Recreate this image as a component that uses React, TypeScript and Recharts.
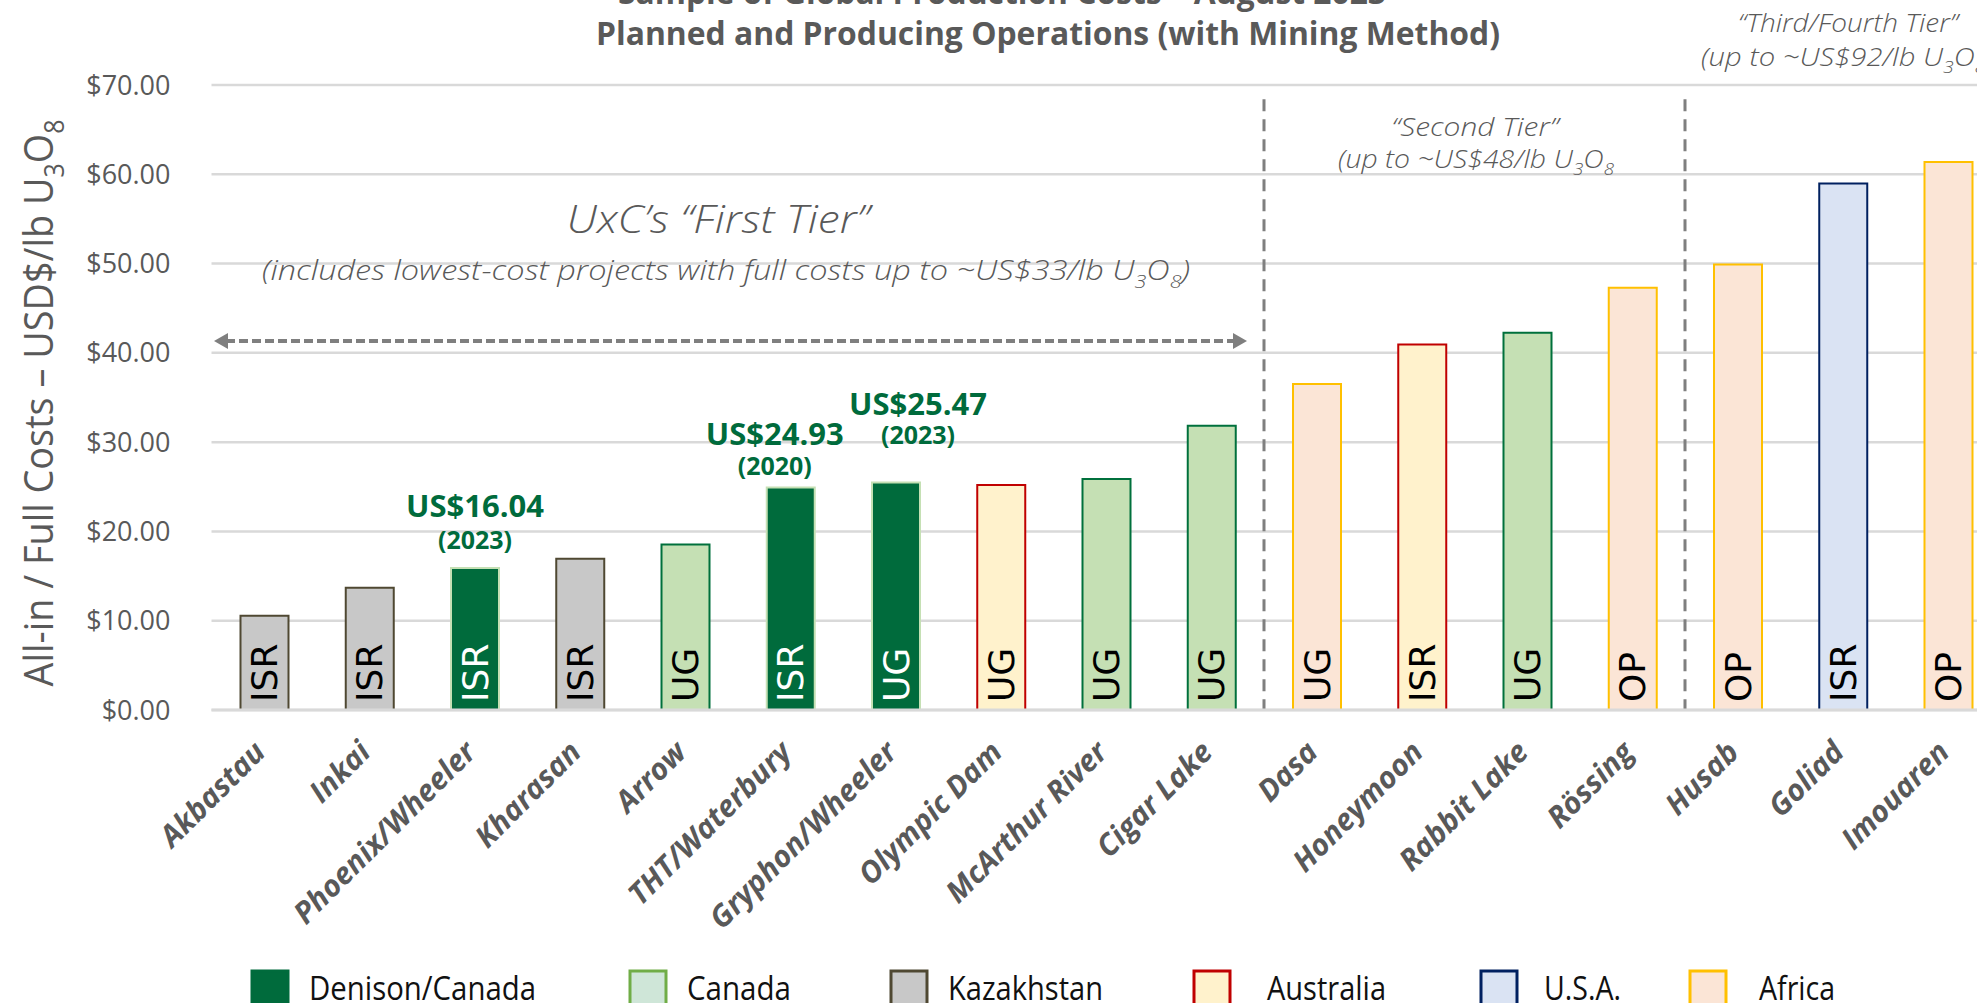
import React from 'react';
import {
  BarChart,
  Bar,
  XAxis,
  YAxis,
  CartesianGrid,
  Cell,
  LabelList,
  ReferenceLine,
} from 'recharts';

const projects = [
  'Akbastau',
  'Inkai',
  'Phoenix/Wheeler',
  'Kharasan',
  'Arrow',
  'THT/Waterbury',
  'Gryphon/Wheeler',
  'Olympic Dam',
  'McArthur River',
  'Cigar Lake',
  'Dasa',
  'Honeymoon',
  'Rabbit Lake',
  'Rössing',
  'Husab',
  'Goliad',
  'Imouaren',
];
const costs = [10.56, 13.7, 15.9, 16.94, 18.55, 24.93, 25.47, 25.2, 25.87, 31.84, 36.5, 40.95, 42.25, 47.3, 49.9, 58.98, 61.37];
const regions = [
  'Kazakhstan',
  'Kazakhstan',
  'Denison/Canada',
  'Kazakhstan',
  'Canada',
  'Denison/Canada',
  'Denison/Canada',
  'Australia',
  'Canada',
  'Canada',
  'Africa',
  'Australia',
  'Canada',
  'Africa',
  'Africa',
  'U.S.A.',
  'Africa',
];
const methods = ['ISR', 'ISR', 'ISR', 'ISR', 'UG', 'ISR', 'UG', 'UG', 'UG', 'UG', 'UG', 'ISR', 'UG', 'OP', 'OP', 'ISR', 'OP'];
const yTicks = [0, 10, 20, 30, 40, 50, 60, 70];
const legendItems = ['Denison/Canada', 'Canada', 'Kazakhstan', 'Australia', 'U.S.A.', 'Africa'];
const calloutProjects = ['Phoenix/Wheeler', 'THT/Waterbury', 'Gryphon/Wheeler'];
const calloutCosts = ['US$16.04', 'US$24.93', 'US$25.47'];
const calloutYears = ['(2023)', '(2020)', '(2023)'];
const tierStarts = ['Dasa', 'Husab'];

const titleLines = [
  'Sample of Global Production Costs \u2013 August 2023',
  'Planned and Producing Operations (with Mining Method)',
];

// styles
const FONT = "'Open Sans', sans-serif";
const GREY = '#595959';
const regionStyle: Record<string, { fill: string; stroke: string; text: string; legendFill: string; legendStroke: string }> = {
  'Denison/Canada': { fill: '#006B3C', stroke: '#C5E0B4', text: '#FFFFFF', legendFill: '#006B3C', legendStroke: '#006B3C' },
  Canada: { fill: '#C5E0B4', stroke: '#00703C', text: '#000000', legendFill: '#CFE6D8', legendStroke: '#70AD47' },
  Kazakhstan: { fill: '#C8C8C8', stroke: '#4F4832', text: '#000000', legendFill: '#C8C8C8', legendStroke: '#4F4832' },
  Australia: { fill: '#FFF2CC', stroke: '#C00000', text: '#000000', legendFill: '#FFF2CC', legendStroke: '#C00000' },
  'U.S.A.': { fill: '#DAE3F3', stroke: '#002060', text: '#000000', legendFill: '#DAE3F3', legendStroke: '#002060' },
  Africa: { fill: '#FBE5D6', stroke: '#FFC000', text: '#000000', legendFill: '#FBE5D6', legendStroke: '#FFC000' },
};
const calloutOffset: Record<string, { dx: number; dy1: number; dy2: number }> = {
  'Phoenix/Wheeler': { dx: 0, dy1: -51, dy2: -19 },
  'THT/Waterbury': { dx: -16, dy1: -42, dy2: -12 },
  'Gryphon/Wheeler': { dx: 22, dy1: -68, dy2: -39 },
};
const legendSquareX = [252, 630, 891, 1194, 1481, 1690];
const legendTextX = [309, 687, 948, 1267, 1544, 1759];
const legendTextW = [227, 104, 155, 119, 77, 76];

const rows = projects.map((name, i) => ({ name, cost: costs[i] }));

const box = (p: any) => {
  const vb = p.viewBox || {};
  return {
    x: vb.x ?? p.x,
    y: vb.y ?? p.y,
    width: vb.width ?? p.width,
    height: vb.height ?? p.height,
  };
};

// U3O8 with subscript digits
function rich(s: string, size: number) {
  const parts = s.split('U3O8');
  const out: React.ReactNode[] = [];
  const sh = size * 0.28;
  const small = size * 0.66;
  parts.forEach((p, i) => {
    if (i > 0) {
      out.push(<tspan key={`u${i}`}>U</tspan>);
      out.push(<tspan key={`a${i}`} dy={sh} fontSize={small}>3</tspan>);
      out.push(<tspan key={`o${i}`} dy={-sh}>O</tspan>);
      out.push(<tspan key={`b${i}`} dy={sh} fontSize={small}>8</tspan>);
    }
    if (p) out.push(<tspan key={`p${i}`} dy={i > 0 ? -sh : 0}>{p}</tspan>);
  });
  return out;
}

const XTick = ({ x, y, payload }: any) => (
  <g transform={`translate(${x + 3},${y + 44}) rotate(-45)`}>
    <text textAnchor="end" fill={GREY} fontFamily={FONT} fontWeight={700} fontStyle="italic" fontSize={30}>
      {payload.value}
    </text>
  </g>
);

const MethodLabel = (props: any) => {
  const { x, y, width, height } = box(props);
  const i = projects.indexOf(props.value);
  if (i < 0) return null;
  const cx = x + width / 2;
  const by = y + height - 8;
  return (
    <text
      transform={`translate(${cx},${by}) rotate(-90)`}
      textAnchor="start"
      dominantBaseline="central"
      fontFamily="'DejaVu Sans', sans-serif"
      fontSize={36}
      fill={regionStyle[regions[i]].text}
    >
      {methods[i]}
    </text>
  );
};

const CalloutLabel = (props: any) => {
  const { x, y, width } = box(props);
  const k = calloutProjects.indexOf(props.value);
  if (k < 0) return null;
  const off = calloutOffset[props.value];
  const cx = x + width / 2 + off.dx;
  return (
    <g fontFamily={FONT} fontWeight={700} fill="#006B3C" textAnchor="middle">
      <text x={cx} y={y + off.dy1} fontSize={31}>
        {calloutCosts[k]}
      </text>
      <text x={cx} y={y + off.dy2} fontSize={25}>
        {calloutYears[k]}
      </text>
    </g>
  );
};

function Overlay() {
  const it = { fontFamily: FONT, fontStyle: 'italic' as const, fill: GREY };
  return (
    <svg
      width={1977}
      height={1003}
      style={{ position: 'absolute', left: 0, top: 0, pointerEvents: 'none' }}
    >
      <text x={1002} y={4} textAnchor="middle" fontFamily={FONT} fontWeight={700} fontSize={33} fill={GREY} textLength={768} lengthAdjust="spacingAndGlyphs">
        {titleLines[0]}
      </text>
      <text x={1048} y={45} textAnchor="middle" fontFamily={FONT} fontWeight={700} fontSize={33} fill={GREY} textLength={904} lengthAdjust="spacingAndGlyphs">
        {titleLines[1]}
      </text>

      <text {...it} x={718} y={233} textAnchor="middle" fontSize={38} fontWeight={300} textLength={303} lengthAdjust="spacingAndGlyphs">
        UxC’s “First Tier”
      </text>
      <text {...it} x={726} y={280} textAnchor="middle" fontSize={28} fontWeight={300} textLength={928} lengthAdjust="spacingAndGlyphs">
        {rich('(includes lowest-cost projects with full costs up to ~US$33/lb U3O8)', 28)}
      </text>
      <text {...it} x={1475} y={136} textAnchor="middle" fontSize={26} fontWeight={300} textLength={167} lengthAdjust="spacingAndGlyphs">
        “Second Tier”
      </text>
      <text {...it} x={1476} y={168} textAnchor="middle" fontSize={26} fontWeight={300} textLength={276} lengthAdjust="spacingAndGlyphs">
        {rich('(up to ~US$48/lb U3O8', 26)}
      </text>
      <text {...it} x={1848} y={32} textAnchor="middle" fontSize={26} fontWeight={300} textLength={220} lengthAdjust="spacingAndGlyphs">
        “Third/Fourth Tier”
      </text>
      <text {...it} x={1701} y={66} textAnchor="start" fontSize={26} fontWeight={300} textLength={292} lengthAdjust="spacingAndGlyphs">
        {rich('(up to ~US$92/lb U3O8)', 26)}
      </text>

      {/* first tier span arrow */}
      <line x1={226} y1={341} x2={1235} y2={341} stroke="#7F7F7F" strokeWidth={4} strokeDasharray="9 4" />
      <polygon points="214,341 228,333 228,349" fill="#7F7F7F" />
      <polygon points="1247,341 1233,333 1233,349" fill="#7F7F7F" />

      {/* y axis title */}
      <text
        transform="translate(53,403) rotate(-90)"
        textAnchor="middle"
        fontFamily={FONT}
        fontSize={40}
        fill={GREY}
        textLength={567}
        lengthAdjust="spacingAndGlyphs"
      >
        {rich('All-in / Full Costs \u2013 USD$/lb U3O8', 40)}
      </text>

      {/* legend */}
      {legendItems.map((name, i) => (
        <g key={name}>
          <rect
            x={legendSquareX[i]}
            y={971}
            width={36}
            height={38}
            fill={regionStyle[name].legendFill}
            stroke={regionStyle[name].legendStroke}
            strokeWidth={3}
          />
          <text
            x={legendTextX[i]}
            y={1000}
            fontFamily={FONT}
            fontSize={32}
            fill="#111111"
            textLength={legendTextW[i]}
            lengthAdjust="spacingAndGlyphs"
          >
            {name}
          </text>
        </g>
      ))}
    </svg>
  );
}

export default function App() {
  return (
    <div style={{ position: 'absolute', left: 0, top: 0, width: 1977, height: 1003, overflow: 'hidden', background: '#fff' }}>
      <BarChart
        width={2010}
        height={1003}
        data={rows}
        margin={{ top: 85, right: 9.25, bottom: 263, left: 0 }}
      >
        <CartesianGrid horizontal vertical={false} stroke="#D9D9D9" strokeWidth={2.5} />
        <XAxis
          dataKey="name"
          interval={0}
          height={30}
          tick={<XTick />}
          tickLine={false}
          tickSize={0}
          tickMargin={0}
          axisLine={{ stroke: '#D9D9D9', strokeWidth: 3 }}
        />
        <YAxis
          width={211.5}
          domain={[0, 70]}
          ticks={yTicks}
          interval={0}
          axisLine={false}
          tickLine={false}
          tickSize={0}
          tickMargin={41}
          tickFormatter={(v: number) => `$${v.toFixed(2)}`}
          tick={{ fill: GREY, fontSize: 27, fontFamily: FONT }}
        />
        {tierStarts.map((t) => (
          <ReferenceLine
            key={t}
            segment={[
              { x: t, y: 68.4 },
              { x: t, y: 0 },
            ]}
            position="start"
            stroke="#7F7F7F"
            strokeWidth={3}
            strokeDasharray="12 8"
            ifOverflow="visible"
          />
        ))}
        <Bar dataKey="cost" barSize={48} strokeWidth={2} isAnimationActive={false}>
          {rows.map((r, i) => (
            <Cell key={r.name} fill={regionStyle[regions[i]].fill} stroke={regionStyle[regions[i]].stroke} />
          ))}
          <LabelList dataKey="name" content={<MethodLabel />} />
          <LabelList dataKey="name" content={<CalloutLabel />} />
        </Bar>
      </BarChart>
      <Overlay />
    </div>
  );
}
